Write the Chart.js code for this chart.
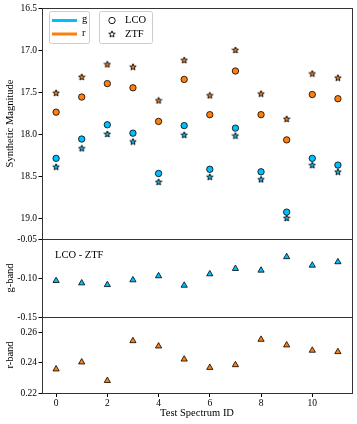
<!DOCTYPE html>
<html>
<head>
<meta charset="utf-8">
<script src="https://cdn.jsdelivr.net/npm/chart.js@4/dist/chart.umd.min.js"></script>
<style>
html,body{margin:0;padding:0;background:#fff;}
#wrap{position:relative;width:357px;height:424px;}
#wrap canvas{position:absolute;left:0;top:0;}
</style>
</head>
<body>
<div id="wrap">
<canvas id="c1" width="357" height="424"></canvas>
<canvas id="c2" width="357" height="424"></canvas>
<canvas id="c3" width="357" height="424"></canvas>
</div>
<script>
// ---- data ----
const ids = [0,1,2,3,4,5,6,7,8,9,10,11];
const gLCO = [18.29,18.06,17.89,17.99,18.47,17.90,18.42,17.93,18.45,18.93,18.29,18.37];
const rLCO = [17.74,17.56,17.40,17.45,17.85,17.35,17.77,17.25,17.77,18.07,17.53,17.58];
const gZTF = [18.39,18.17,18.00,18.09,18.57,18.01,18.51,18.02,18.54,19.00,18.37,18.45];
const rZTF = [17.51,17.32,17.17,17.20,17.60,17.12,17.54,17.00,17.52,17.82,17.28,17.33];
const gDiff = [-0.1035,-0.1065,-0.1087,-0.1026,-0.0974,-0.1095,-0.0949,-0.0880,-0.0902,-0.0729,-0.0838,-0.0794];
const rDiff = [0.2357,0.2403,0.2281,0.2543,0.2508,0.2422,0.2367,0.2385,0.2552,0.2515,0.2480,0.2471];
const xTicks = [0,2,4,6,8,10];
const magTicks = [16.5,17.0,17.5,18.0,18.5,19.0];
const gTicks = [-0.15,-0.10,-0.05];
const rTicks = [0.22,0.24,0.26];

// ---- style ----
const CYAN = '#00bfff';
const ORANGE = '#ff7f0e';
const FONT = 'Liberation Serif';
const tickFont = {family: FONT, size: 9.5};
const titleFont = {family: FONT, size: 10.5};

function pts(ys){ return ids.map((x,i)=>({x:x, y:ys[i]})); }

function starPath(ctx, cx, cy, R, r){
  ctx.beginPath();
  for(let k=0;k<10;k++){
    const rad = (k%2===0)?R:r;
    const a = -Math.PI/2 + k*Math.PI/5;
    const px = cx + rad*Math.cos(a), py = cy + rad*Math.sin(a);
    if(k===0) ctx.moveTo(px,py); else ctx.lineTo(px,py);
  }
  ctx.closePath();
}
function makeStar(fill){
  const c = document.createElement('canvas');
  c.width = 8; c.height = 8;
  const x = c.getContext('2d');
  starPath(x, 4, 4.3, 3.4, 1.45);
  x.fillStyle = fill; x.fill();
  x.lineWidth = 0.9; x.strokeStyle = '#000'; x.stroke();
  return c;
}

const framePlugin = {
  id: 'frame',
  afterDatasetsDraw(chart){
    const {ctx, chartArea:a} = chart;
    ctx.save();
    ctx.strokeStyle = '#333';
    ctx.lineWidth = 1;
    ctx.strokeRect(Math.round(a.left)+0.5, Math.round(a.top)+0.5, Math.round(a.right-a.left), Math.round(a.bottom-a.top));
    ctx.restore();
  }
};

function xScale(show){
  return {
    type:'linear', min:-0.55, max:11.55, display: show,
    afterBuildTicks: s => { s.ticks = xTicks.map(v=>({value:v})); },
    afterFit: s => { if(show) s.height = 31; },
    grid:{display:true, drawOnChartArea:false, drawTicks:true, tickLength:4, color:'#000'},
    border:{display:false},
    ticks:{font:tickFont, color:'#000', padding:1, maxRotation:0, callback:v=>String(v)},
    title:{display:show, text:'Test Spectrum ID', font:titleFont, color:'#000', padding:{top:0,bottom:4}}
  };
}
function yScale(min, max, ticks, dec, title, reverse){
  return {
    type:'linear', min:min, max:max, reverse:!!reverse,
    afterBuildTicks: s => { s.ticks = ticks.map(v=>({value:v})); },
    afterFit: s => { s.width = 42; },
    grid:{display:true, drawOnChartArea:false, drawTicks:true, tickLength:3.5, color:'#000'},
    border:{display:false},
    ticks:{font:tickFont, color:'#000', padding:1.5, callback:v=>Number(v).toFixed(dec)},
    title:{display:true, text:title, font:titleFont, color:'#000', padding:{top:4,bottom:0}}
  };
}
function baseOpts(pad, xs, ys){
  return {
    responsive:false, animation:false, events:[],
    layout:{padding:pad},
    plugins:{legend:{display:false}, tooltip:{enabled:false}},
    scales:{x:xs, y:ys}
  };
}

// ---- legend for top panel ----
const legendPlugin = {
  id:'legendBoxes',
  afterDraw(chart){
    const ctx = chart.ctx;
    ctx.save();
    function box(x,y,w,h){
      ctx.beginPath();
      ctx.roundRect(x,y,w,h,2);
      ctx.fillStyle='rgba(255,255,255,0.85)'; ctx.fill();
      ctx.strokeStyle='#cccccc'; ctx.lineWidth=1; ctx.stroke();
    }
    box(49.5,11.5,40,32);
    box(99.5,11.5,53,32);
    ctx.lineWidth=3;
    ctx.strokeStyle=CYAN; ctx.beginPath(); ctx.moveTo(52,20.5); ctx.lineTo(77,20.5); ctx.stroke();
    ctx.strokeStyle=ORANGE; ctx.beginPath(); ctx.moveTo(52,34); ctx.lineTo(77,34); ctx.stroke();
    ctx.fillStyle='#000';
    ctx.font = '10.5px "'+FONT+'"';
    ctx.textBaseline='middle'; ctx.textAlign='left';
    ctx.fillText('g',82,19.5);
    ctx.fillText('r',82,33.5);
    ctx.lineWidth=0.9; ctx.strokeStyle='#000';
    ctx.beginPath(); ctx.arc(112,20.5,3.2,0,Math.PI*2); ctx.fillStyle='#fff'; ctx.fill(); ctx.stroke();
    starPath(ctx,112,34.3,3.4,1.45); ctx.fillStyle='#fff'; ctx.fill(); ctx.stroke();
    ctx.fillStyle='#000';
    ctx.fillText('LCO',125,20.5);
    ctx.fillText('ZTF',125,34);
    ctx.restore();
  }
};
const annotPlugin = {
  id:'annot',
  afterDraw(chart){
    const ctx = chart.ctx;
    ctx.save();
    ctx.fillStyle='#000';
    ctx.font='10.5px "'+FONT+'"';
    ctx.textBaseline='middle'; ctx.textAlign='left';
    ctx.fillText('LCO - ZTF',55,255);
    ctx.restore();
  }
};

const circ = (col)=>({pointStyle:'circle', pointRadius:3.2, pointBackgroundColor:col, pointBorderColor:'#000', pointBorderWidth:0.8});
const tri = (col)=>({pointStyle:'triangle', pointRadius:3.6, pointBackgroundColor:col, pointBorderColor:'#000', pointBorderWidth:0.8});

new Chart(document.getElementById('c1'), {
  type:'scatter',
  data:{datasets:[
    Object.assign({label:'g LCO', data:pts(gLCO)}, circ(CYAN)),
    Object.assign({label:'r LCO', data:pts(rLCO)}, circ(ORANGE)),
    {label:'g ZTF', data:pts(gZTF), pointStyle:makeStar(CYAN), pointRadius:4},
    {label:'r ZTF', data:pts(rZTF), pointStyle:makeStar(ORANGE), pointRadius:4}
  ]},
  options: baseOpts({top:8,bottom:185,left:0,right:5}, xScale(false), yScale(16.5,19.25,magTicks,1,'Synthetic Magnitude',true)),
  plugins:[framePlugin, legendPlugin]
});

new Chart(document.getElementById('c2'), {
  type:'scatter',
  data:{datasets:[ Object.assign({label:'g-band', data:pts(gDiff)}, tri(CYAN)) ]},
  options: baseOpts({top:239,bottom:107,left:0,right:5}, xScale(false), yScale(-0.15,-0.05,gTicks,2,'g-band')),
  plugins:[framePlugin, annotPlugin]
});

new Chart(document.getElementById('c3'), {
  type:'scatter',
  data:{datasets:[ Object.assign({label:'r-band', data:pts(rDiff)}, tri(ORANGE)) ]},
  options: baseOpts({top:317,bottom:0,left:0,right:5}, xScale(true), yScale(0.22,0.27,rTicks,2,'r-band')),
  plugins:[framePlugin]
});
</script>
</body>
</html>
